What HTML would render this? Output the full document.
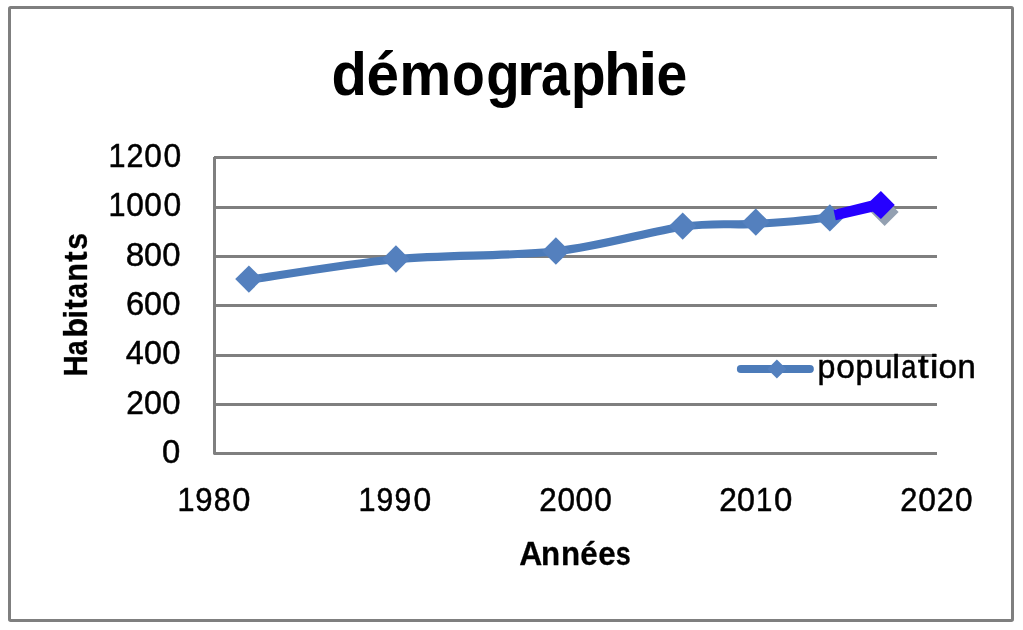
<!DOCTYPE html>
<html>
<head>
<meta charset="utf-8">
<style>
html,body{margin:0;padding:0;background:#fff;width:1023px;height:630px;overflow:hidden;}
svg{display:block;will-change:transform;}
text{font-family:"Liberation Sans", sans-serif;fill:#000;}
.b{font-weight:bold;}
.r{stroke:#000;stroke-width:0.5;}
.bs{stroke:#000;stroke-width:0.3;}
</style>
</head>
<body>
<svg width="1023" height="630" viewBox="0 0 1023 630">
<rect x="0" y="0" width="1023" height="630" fill="#fff"/>
<!-- chart border -->
<rect x="9.5" y="7.5" width="1003" height="613" rx="1.2" fill="none" stroke="#7F7F7F" stroke-width="3"/>

<!-- title -->
<g id="title">
<text class="b" transform="translate(331.52,95.00) scale(0.958,1.000)" font-size="60.5">d</text>
<text class="b" transform="translate(366.42,95.00) scale(0.965,1.000)" font-size="60.5">é</text>
<text class="b" transform="translate(399.14,95.00) scale(0.967,1.000)" font-size="60.5">m</text>
<text class="b" transform="translate(452.01,95.00) scale(0.887,1.000)" font-size="60.5">o</text>
<text class="b" transform="translate(486.16,95.00) scale(0.904,1.000)" font-size="60.5">g</text>
<text class="b" transform="translate(516.71,95.00) scale(1.100,1.000)" font-size="60.5">r</text>
<text class="b" transform="translate(541.10,95.00) scale(0.857,1.000)" font-size="60.5">a</text>
<text class="b" transform="translate(570.63,95.00) scale(0.945,1.000)" font-size="60.5">p</text>
<text class="b" transform="translate(604.11,95.00) scale(0.990,1.000)" font-size="60.5">h</text>
<text class="b" transform="translate(637.79,95.00) scale(1.200,1.000)" font-size="60.5">i</text>
<text class="b" transform="translate(656.44,95.00) scale(0.914,1.000)" font-size="60.5">e</text>
</g>

<!-- gridlines -->
<g stroke="#7F7F7F" stroke-width="3" fill="none">
<line x1="214" y1="157.5" x2="937" y2="157.5"/>
<line x1="214" y1="207.5" x2="937" y2="207.5"/>
<line x1="214" y1="256.5" x2="937" y2="256.5"/>
<line x1="214" y1="305.5" x2="937" y2="305.5"/>
<line x1="214" y1="355.5" x2="937" y2="355.5"/>
<line x1="214" y1="404.5" x2="937" y2="404.5"/>
<line x1="214" y1="453.5" x2="937" y2="453.5"/>
<line x1="214.5" y1="157" x2="214.5" y2="454.5"/>
</g>

<!-- axis labels -->
<g id="digits">
<text class="r" transform="translate(108.42,166.70) scale(0.914,1.000)" font-size="33.5">1</text>
<text class="r" transform="translate(126.43,166.70) scale(0.910,1.000)" font-size="33.5">2</text>
<text class="r" transform="translate(144.32,166.70) scale(0.943,1.000)" font-size="33.5">0</text>
<text class="r" transform="translate(163.41,166.70) scale(0.949,1.000)" font-size="33.5">0</text>
<text class="r" transform="translate(108.42,215.70) scale(0.914,1.000)" font-size="33.5">1</text>
<text class="r" transform="translate(126.32,215.70) scale(0.943,1.000)" font-size="33.5">0</text>
<text class="r" transform="translate(144.32,215.70) scale(0.943,1.000)" font-size="33.5">0</text>
<text class="r" transform="translate(163.41,215.70) scale(0.949,1.000)" font-size="33.5">0</text>
<text class="r" transform="translate(125.81,265.60) scale(0.997,1.000)" font-size="33.5">8</text>
<text class="r" transform="translate(144.09,265.60) scale(0.962,1.000)" font-size="33.5">0</text>
<text class="r" transform="translate(162.17,265.60) scale(0.980,1.000)" font-size="33.5">0</text>
<text class="r" transform="translate(125.88,314.70) scale(0.978,1.000)" font-size="33.5">6</text>
<text class="r" transform="translate(144.09,314.70) scale(0.962,1.000)" font-size="33.5">0</text>
<text class="r" transform="translate(162.17,314.70) scale(0.980,1.000)" font-size="33.5">0</text>
<text class="r" transform="translate(125.85,363.70) scale(0.968,1.000)" font-size="33.5">4</text>
<text class="r" transform="translate(144.09,363.70) scale(0.962,1.000)" font-size="33.5">0</text>
<text class="r" transform="translate(162.17,363.70) scale(0.980,1.000)" font-size="33.5">0</text>
<text class="r" transform="translate(126.27,413.60) scale(0.946,1.000)" font-size="33.5">2</text>
<text class="r" transform="translate(144.09,413.60) scale(0.962,1.000)" font-size="33.5">0</text>
<text class="r" transform="translate(162.17,413.60) scale(0.980,1.000)" font-size="33.5">0</text>
<text class="r" transform="translate(162.07,462.80) scale(0.980,1.000)" font-size="33.5">0</text>
<text class="r" transform="translate(177.62,511.00) scale(0.914,1.000)" font-size="33.5">1</text>
<text class="r" transform="translate(195.29,511.00) scale(0.930,1.000)" font-size="33.5">9</text>
<text class="r" transform="translate(213.84,511.00) scale(0.908,1.000)" font-size="33.5">8</text>
<text class="r" transform="translate(232.18,511.00) scale(0.974,1.000)" font-size="33.5">0</text>
<text class="r" transform="translate(358.42,511.00) scale(0.914,1.000)" font-size="33.5">1</text>
<text class="r" transform="translate(376.54,511.00) scale(0.898,1.000)" font-size="33.5">9</text>
<text class="r" transform="translate(394.54,511.00) scale(0.898,1.000)" font-size="33.5">9</text>
<text class="r" transform="translate(413.41,511.00) scale(0.949,1.000)" font-size="33.5">0</text>
<text class="r" transform="translate(539.18,511.00) scale(0.936,1.000)" font-size="33.5">2</text>
<text class="r" transform="translate(557.52,511.00) scale(0.943,1.000)" font-size="33.5">0</text>
<text class="r" transform="translate(575.41,511.00) scale(0.949,1.000)" font-size="33.5">0</text>
<text class="r" transform="translate(594.22,511.00) scale(0.943,1.000)" font-size="33.5">0</text>
<text class="r" transform="translate(719.22,511.00) scale(0.946,1.000)" font-size="33.5">2</text>
<text class="r" transform="translate(737.09,511.00) scale(0.962,1.000)" font-size="33.5">0</text>
<text class="r" transform="translate(755.91,511.00) scale(0.880,1.000)" font-size="33.5">1</text>
<text class="r" transform="translate(774.06,511.00) scale(0.984,1.000)" font-size="33.5">0</text>
<text class="r" transform="translate(900.31,511.00) scale(0.916,1.000)" font-size="33.5">2</text>
<text class="r" transform="translate(918.21,511.00) scale(0.949,1.000)" font-size="33.5">0</text>
<text class="r" transform="translate(936.71,511.00) scale(0.916,1.000)" font-size="33.5">2</text>
<text class="r" transform="translate(955.02,511.00) scale(0.943,1.000)" font-size="33.5">0</text>
</g>

<!-- axis titles -->
<g id="annees" class="bs">
<text class="b" transform="translate(519.35,564.90) scale(0.946,1.000)" font-size="33.7">A</text>
<text class="b" transform="translate(541.09,564.90) scale(0.928,1.000)" font-size="33.7">n</text>
<text class="b" transform="translate(560.99,564.90) scale(0.928,1.000)" font-size="33.7">n</text>
<text class="b" transform="translate(580.23,564.90) scale(0.928,1.000)" font-size="33.7">é</text>
<text class="b" transform="translate(598.13,564.90) scale(0.928,1.000)" font-size="33.7">e</text>
<text class="b" transform="translate(615.64,564.90) scale(0.800,1.000)" font-size="33.7">s</text>
</g>
<g id="habitants" class="bs">
<text class="b" transform="translate(87.40,376.52) rotate(-90) scale(0.865,1)" font-size="34.0">H</text>
<text class="b" transform="translate(87.40,355.55) rotate(-90) scale(0.800,1)" font-size="34.0">a</text>
<text class="b" transform="translate(87.40,337.81) rotate(-90) scale(0.963,1)" font-size="34.0">b</text>
<text class="b" transform="translate(87.40,318.44) rotate(-90) scale(0.880,1)" font-size="34.0">i</text>
<text class="b" transform="translate(87.40,309.52) rotate(-90) scale(0.904,1)" font-size="34.0">t</text>
<text class="b" transform="translate(87.40,298.14) rotate(-90) scale(0.804,1)" font-size="34.0">a</text>
<text class="b" transform="translate(87.40,281.77) rotate(-90) scale(0.901,1)" font-size="34.0">n</text>
<text class="b" transform="translate(87.40,261.93) rotate(-90) scale(0.933,1)" font-size="34.0">t</text>
<text class="b" transform="translate(87.40,249.81) rotate(-90) scale(0.892,1)" font-size="34.0">s</text>
</g>

<!-- series line -->
<path id="ser" d="M248.90,279.90 C273.41,276.47 344.78,264.07 395.95,259.30 C447.12,254.53 508.11,256.73 555.90,251.30 C603.69,245.87 649.38,231.27 682.70,226.70 C716.02,222.13 731.27,225.48 755.80,223.90 C780.32,222.32 808.98,220.35 829.85,217.20" fill="none" stroke="#4C7BB9" stroke-width="8.1" stroke-linejoin="round"/>
<!-- ghost marker -->
<path d="M884.6,197.9 L898.6,211.9 L884.6,225.9 L870.6,211.9 Z" fill="#93A0B1"/>
<g fill="#5480BE">
<path d="M248.9,265.4 L262.6,279.05 L248.9,292.7 L235.2,279.05 Z"/>
<path d="M395.95,245.3 L409.65,259 L395.95,272.7 L382.25,259 Z"/>
<path d="M555.9,237.3 L569.6,251.05 L555.9,264.8 L542.2,251.05 Z"/>
<path d="M682.7,212.4 L696.4,226.05 L682.7,239.7 L669,226.05 Z"/>
<path d="M755.8,208.5 L769.5,222.1 L755.8,235.7 L742.1,222.1 Z"/>
<path d="M829.85,204.2 L843.55,217.9 L829.85,231.6 L816.15,217.9 Z"/>
</g>
<!-- highlighted segment -->
<path d="M833.6,210.1 L870.6,200.8 L880.9,191 L894.8,205 L880.9,218.9 L872.8,211.8 L835.8,220.2 Z" fill="#2600FF"/>

<!-- legend -->
<line x1="740.8" y1="369" x2="809.9" y2="369" stroke="#4C7BB9" stroke-width="7.9" stroke-linecap="round"/>
<path d="M776.9,359.6 L786.4,369.1 L776.9,378.6 L767.4,369.1 Z" fill="#5480BE"/>
<g id="population">
<text class="r" transform="translate(817.49,378.10) scale(0.948,1.000)" font-size="34.0">p</text>
<text class="r" transform="translate(836.14,378.10) scale(0.985,1.000)" font-size="34.0">o</text>
<text class="r" transform="translate(855.60,378.10) scale(0.941,1.000)" font-size="34.0">p</text>
<text class="r" transform="translate(874.21,378.10) scale(0.969,1.000)" font-size="34.0">u</text>
<text class="r" transform="translate(892.29,378.10) scale(1.036,1.000)" font-size="34.0">l</text>
<text class="r" transform="translate(901.22,378.10) scale(0.800,1.000)" font-size="34.0">a</text>
<text class="r" transform="translate(917.76,378.10) scale(1.160,1.000)" font-size="34.0">t</text>
<text class="r" transform="translate(929.79,378.10) scale(1.170,1.000)" font-size="34.0">i</text>
<text class="r" transform="translate(938.54,378.10) scale(0.985,1.000)" font-size="34.0">o</text>
<text class="r" transform="translate(957.58,378.10) scale(0.969,1.000)" font-size="34.0">n</text>
</g>
</svg>
</body>
</html>
